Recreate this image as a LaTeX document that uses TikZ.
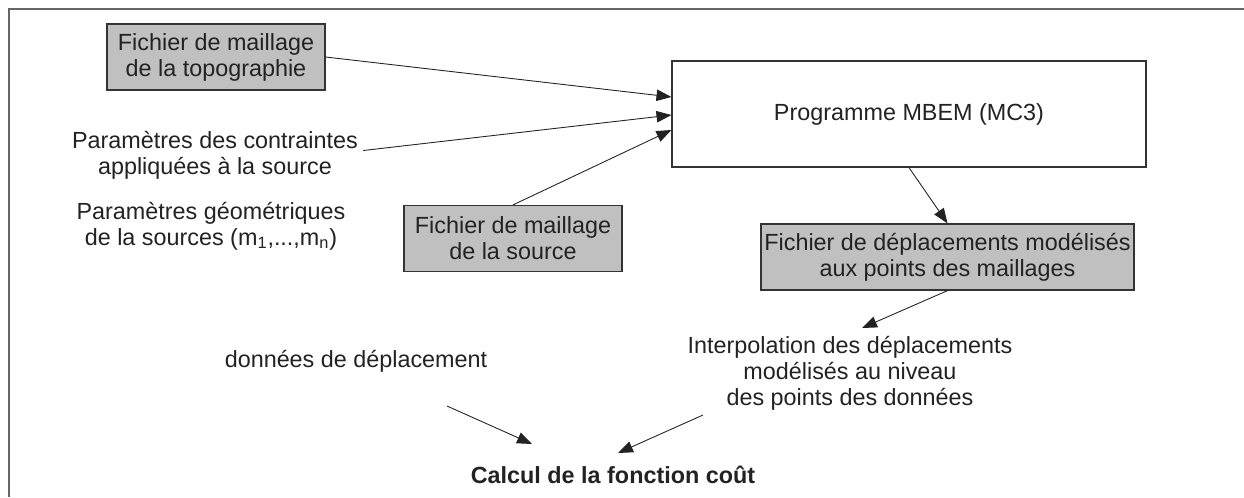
\documentclass[tikz,border=0pt]{standalone}
\usepackage{fontspec}
\setmainfont{Liberation Sans}
\usetikzlibrary{arrows.meta}
\definecolor{gristexte}{HTML}{222222}
\definecolor{grisfond}{HTML}{C0C0C0}
\definecolor{griscadre}{HTML}{333333}
\begin{document}
\begin{tikzpicture}[x=0.02cm, y=-0.02cm,
    font=\fontsize{13.3pt}{14.8pt}\selectfont, text=gristexte,
    fichier/.style={draw=griscadre, fill=grisfond, line width=0.7pt, align=center, inner sep=0pt, minimum height=1.32cm},
    texte/.style={align=center, inner sep=0pt},
    fleche/.style={-{Triangle[length=8.5pt, width=6.5pt]}, line width=0.5pt, draw=gristexte}]
    \useasboundingbox (0,0) rectangle (1244,497);
    % cadre
    \draw[line width=1.1pt, draw=gray!80!black] (1244,9) -- (9,9) -- (9,497);

    % entrées
    \node[fichier, minimum width=4.36cm] (topo) at (216,57) {Fichier de maillage\\de la topographie};
    \node[texte] (contr) at (215,155.5) {Paramètres des contraintes\\appliquées à la source};
    \node[texte] (geom) at (211,226) {Paramètres géométriques\\de la sources (m\textsubscript{1},...,m\textsubscript{n})};
    \node[fichier, minimum width=4.36cm] (source) at (513,238.5) {Fichier de maillage\\de la source};

    % programme et sorties
    \node[draw=griscadre, line width=0.7pt, minimum width=9.48cm, minimum height=2.12cm] (mbem) at (909,114) {Programme MBEM (MC3)};
    \node[fichier, minimum width=7.46cm] (depl) at (947.5,257) {Fichier de déplacements modélisés\\aux points des maillages};
    \node[texte] (interp) at (850,373.5) {Interpolation des déplacements\\modélisés au niveau\\des points des données};
    \node[texte] (donnees) at (356,361) {données de déplacement};
    \node[texte, font=\fontsize{13.3pt}{14.8pt}\selectfont\bfseries] (cout) at (613,475) {Calcul de la fonction coût};

    % extrémités libres
    \coordinate (pI) at (862,328);
    \coordinate (pD) at (447,406);
    \coordinate (pC1) at (532,444);
    \coordinate (pI2) at (703,415);
    \coordinate (pC2) at (618,453);

    % flèches
    \draw[fleche] (topo.east) -- ([shift={(0,-17)}]mbem.west);
    \draw[fleche] ([shift={(5,-5)}]contr.east) -- ([shift={(0,1)}]mbem.west);
    \draw[fleche] (source.north) -- ([shift={(0,16)}]mbem.west);
    \draw[fleche] (mbem.south) -- (depl.north);
    \draw[fleche] (depl.south) -- (pI);
    \draw[fleche] (pD) -- (pC1);
    \draw[fleche] (pI2) -- (pC2);
\end{tikzpicture}
\end{document}
